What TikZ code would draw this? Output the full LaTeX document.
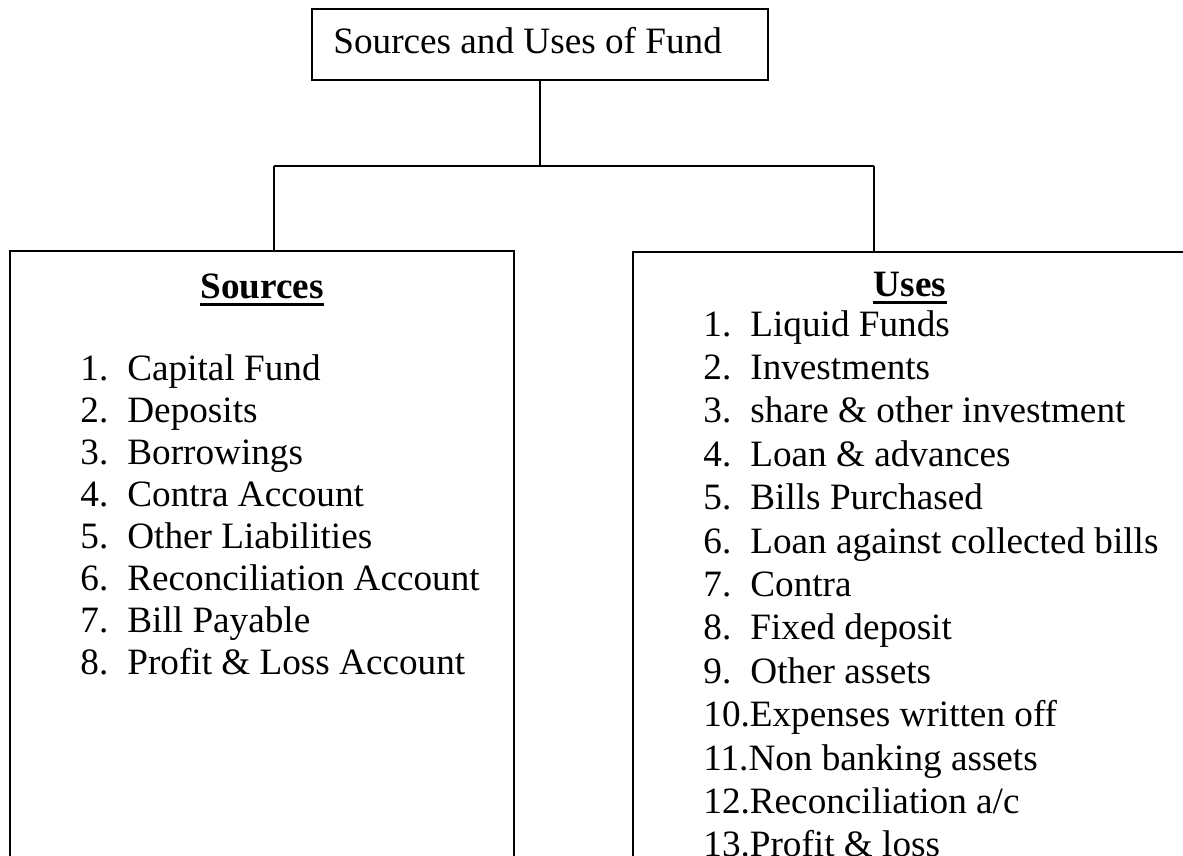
\documentclass[tikz,border=0pt]{standalone}
\usepackage{fontspec}
\setmainfont{Liberation Serif}
\tikzset{
  box/.style={draw=black, line width=0.7pt, rectangle, inner sep=0pt},
  bigbox/.style={draw=black, line width=1pt, rectangle, inner sep=0pt},
  conn/.style={draw=black, line width=0.75pt},
  txt/.style={inner sep=0pt, anchor=base west, font=\fontsize{18.6pt}{21.5pt}\selectfont},
  head/.style={inner sep=0pt, anchor=base, font=\fontsize{18.6pt}{21.5pt}\selectfont\bfseries},
  uline/.style={line width=1.3pt},
}
\begin{document}
\begin{tikzpicture}[x=0.5pt,y=-0.5pt]
\useasboundingbox (0,0) rectangle (1183,856);
\clip (0,0) rectangle (1183,856);
% top box
\node[box, minimum width=228pt, minimum height=35.5pt] (top) at (540,44.5) {};
\node[txt] (title) at (333,54) {Sources and Uses of Fund};
% lower boxes
\node[bigbox, minimum width=252pt, minimum height=324.5pt] (src) at (262,575.5) {};
\node[bigbox, minimum width=277pt, minimum height=324pt] (use) at (910,576) {};
% connectors
\coordinate (jl) at (274,166);
\coordinate (jr) at (874,166);
\draw[conn] (top.south) -- (top.south |- jl);
\draw[conn] (jl) -- (jr);
\draw[conn] (jl) -- (jl |- src.north);
\draw[conn] (jr) -- (jr |- use.north);
% headings
\node[head] (sh) at (262,298) {Sources};
\draw[uline] ([yshift=-3.2pt]sh.base west) -- ([yshift=-3.2pt]sh.base east);
\node[head] (uh) at (910,296) {Uses};
\draw[uline] ([yshift=-3.2pt]uh.base west) -- ([yshift=-3.2pt]uh.base east);
% sources list
\foreach \t [count=\i] in {Capital Fund, Deposits, Borrowings, Contra Account,
  Other Liabilities, Reconciliation Account, Bill Payable, Profit \& Loss Account}
  \node[txt] (s\i) at (80,{380+42*(\i-1)}) {\makebox[23.5pt][l]{\i.}\t};
% uses list
\foreach \t [count=\i] in {Liquid Funds, Investments, share \& other investment,
  Loan \& advances, Bills Purchased, Loan against collected bills, Contra,
  Fixed deposit, Other assets, Expenses written off, Non banking assets,
  Reconciliation a/c, Profit \& loss}
  \node[txt] (u\i) at (703,{336+43.4*(\i-1)}) {\ifnum\i<10 \makebox[23.5pt][l]{\i.}\else\i.\fi\t};
\end{tikzpicture}
\end{document}
